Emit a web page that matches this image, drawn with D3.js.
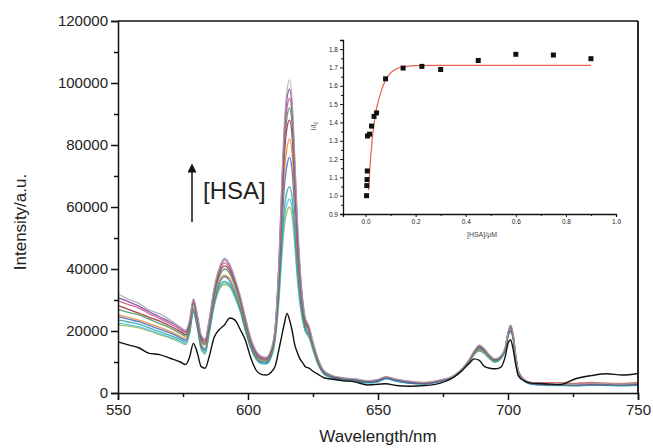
<!DOCTYPE html>
<html>
<head>
<meta charset="utf-8">
<script src="https://cdn.jsdelivr.net/npm/d3@7"></script>
<style>
  body { margin: 0; background: #fff; }
  svg { display: block; font-family: Arial, "Liberation Sans", sans-serif; }
  .axis path, .axis line { stroke: #111; }
  .axis text { fill: #222; }
</style>
</head>
<body>
<svg id="chart" width="653" height="448"></svg>
<script>
// wavelength grid, nm
const wavelengths = [
  550, 554, 558, 562, 566, 570, 574, 576, 577.5, 579,
  580.5, 582, 583.5, 585, 587, 589, 591, 593, 595, 597,
  599, 601, 603, 605, 607, 609, 610.5, 612, 613, 614,
  615, 616, 617, 618, 619, 620, 621, 622, 623.5, 625,
  627, 629, 632, 636, 641, 646, 650, 653, 657, 662,
  668, 674, 679, 682, 685, 687, 689, 691, 693, 695,
  697, 699, 700, 701, 702, 703, 704, 706, 709, 714,
  720, 726, 732, 738, 744, 750
];

// intensities, in thousands of a.u.
const curveGray = [
  32.0, 30.2, 28.9, 26.8, 25.5, 23.6, 21.2, 20.3, 23.5, 30.5,
  25.5, 18.8, 17.5, 23.5, 34.0, 40.5, 43.5, 41.5, 37.0, 31.5,
  24.5, 18.0, 13.8, 12.0, 11.6, 14.5, 22.0, 45.0, 68.0, 87.0,
  97.5, 101.0, 94.0, 76.0, 56.0, 41.0, 30.5, 24.5, 21.5, 16.5,
  11.0, 7.5, 5.8, 5.0, 4.6, 4.0, 4.4, 5.2, 4.5, 3.8,
  3.4, 4.2, 5.6, 7.6, 10.8, 13.6, 15.5, 14.2, 12.2, 11.0,
  11.8, 15.0, 19.5, 22.0, 19.0, 12.0, 7.2, 4.6, 3.3, 3.1,
  3.0, 2.8, 3.1, 3.0, 2.9, 3.1
];
const curvePurple = [
  30.8, 29.5, 28.0, 26.2, 24.6, 23.0, 21.0, 19.8, 23.0, 30.0,
  25.0, 18.2, 17.0, 23.0, 33.5, 40.0, 43.0, 41.0, 36.5, 31.0,
  24.0, 17.5, 13.5, 11.6, 11.3, 14.0, 21.5, 44.0, 66.5, 85.0,
  95.0, 98.0, 91.5, 74.0, 54.5, 40.0, 30.0, 24.0, 21.2, 16.2,
  10.8, 7.2, 5.6, 4.8, 4.4, 3.8, 4.2, 5.0, 4.3, 3.6,
  3.2, 4.0, 5.4, 7.4, 10.5, 13.3, 15.0, 13.9, 12.0, 10.8,
  11.6, 14.8, 19.2, 21.5, 18.6, 11.8, 7.0, 4.4, 3.1, 2.9,
  2.8, 2.7, 2.9, 2.8, 2.7, 2.9
];
const curveMagenta = [
  29.8, 28.5, 27.4, 25.6, 24.0, 22.4, 20.4, 19.3, 22.5, 29.5,
  24.5, 17.8, 16.5, 22.5, 33.0, 39.5, 42.0, 40.2, 36.0, 30.5,
  23.5, 17.0, 13.0, 11.2, 11.0, 13.8, 21.0, 43.0, 64.5, 82.0,
  92.0, 95.0, 89.0, 72.0, 53.0, 39.0, 29.5, 23.8, 20.8, 16.0,
  10.6, 7.3, 5.7, 4.9, 4.5, 3.9, 4.3, 5.1, 4.4, 3.7,
  3.3, 4.1, 5.5, 7.5, 10.6, 13.5, 15.2, 14.0, 12.1, 10.9,
  11.7, 14.9, 19.4, 21.8, 18.8, 11.9, 7.1, 4.5, 3.3, 3.2,
  3.2, 3.0, 3.3, 3.1, 3.0, 3.3
];
const curveGreen = [
  27.0, 26.0, 25.2, 23.8, 22.4, 21.0, 19.2, 18.3, 21.5, 28.5,
  23.5, 16.8, 15.5, 21.5, 31.5, 37.5, 40.0, 38.5, 34.5, 29.5,
  22.5, 16.3, 12.6, 10.8, 10.6, 13.3, 20.5, 41.5, 62.5, 79.5,
  89.0, 92.0, 86.0, 69.5, 51.0, 37.5, 28.5, 23.0, 20.2, 15.5,
  10.2, 7.0, 5.4, 4.6, 4.2, 3.6, 4.0, 4.9, 4.2, 3.5,
  3.1, 3.9, 5.2, 7.1, 10.1, 12.9, 14.5, 13.5, 11.6, 10.4,
  11.2, 14.4, 18.8, 21.0, 18.2, 11.5, 6.8, 4.3, 3.0, 2.7,
  2.6, 2.5, 2.7, 2.6, 2.5, 2.7
];
const curveDarkRed = [
  28.2, 27.0, 25.8, 24.4, 23.2, 21.6, 19.8, 18.8, 22.0, 29.0,
  24.0, 17.4, 16.0, 22.0, 32.0, 38.5, 41.0, 39.4, 35.2, 30.0,
  23.0, 16.6, 12.8, 11.1, 10.9, 13.6, 20.8, 40.5, 60.0, 76.5,
  85.5, 88.0, 82.5, 67.0, 49.5, 36.8, 28.2, 22.8, 20.4, 15.8,
  10.5, 7.1, 5.5, 4.7, 4.3, 3.7, 4.1, 5.0, 4.3, 3.6,
  3.2, 4.0, 5.3, 7.3, 10.4, 13.2, 15.0, 13.8, 11.9, 10.7,
  11.5, 14.7, 19.1, 21.5, 18.5, 11.7, 7.0, 4.4, 3.2, 2.9,
  2.9, 2.8, 3.0, 2.9, 2.8, 3.0
];
const curveOrange = [
  25.2, 24.4, 23.5, 22.4, 21.2, 19.9, 18.3, 17.5, 20.8, 27.5,
  22.8, 16.0, 14.5, 20.8, 30.5, 36.2, 38.0, 36.8, 33.2, 28.4,
  21.8, 15.8, 12.2, 10.5, 10.4, 13.0, 19.8, 38.5, 56.5, 71.5,
  79.0, 82.0, 77.0, 63.0, 46.8, 35.0, 27.2, 22.2, 19.6, 15.2,
  10.0, 6.9, 5.4, 4.6, 4.3, 3.8, 4.2, 5.2, 4.4, 3.8,
  3.4, 4.2, 5.4, 7.2, 10.0, 12.6, 14.0, 13.1, 11.4, 10.3,
  11.3, 14.6, 19.0, 20.8, 18.0, 11.4, 6.8, 4.4, 3.3, 3.3,
  3.3, 3.1, 3.4, 3.2, 3.1, 3.4
];
const curveBlue = [
  24.6, 23.8, 23.0, 21.8, 20.6, 19.4, 17.8, 17.0, 20.3, 27.0,
  22.2, 15.4, 14.0, 20.2, 29.8, 35.5, 37.5, 36.2, 32.6, 27.8,
  21.2, 15.4, 11.8, 10.1, 10.0, 12.6, 19.2, 36.5, 53.0, 66.5,
  73.5, 76.0, 71.5, 58.5, 44.0, 33.2, 26.0, 21.4, 19.0, 14.8,
  9.7, 6.7, 5.2, 4.4, 4.0, 3.4, 3.8, 4.8, 4.0, 3.3,
  3.0, 3.8, 5.2, 7.2, 10.2, 12.9, 14.2, 13.2, 11.5, 10.3,
  11.1, 14.2, 18.5, 20.0, 17.6, 11.2, 6.6, 4.2, 2.9, 2.6,
  2.5, 2.4, 2.6, 2.5, 2.4, 2.6
];
const curveTeal = [
  23.6, 22.9, 22.2, 21.0, 19.8, 18.6, 17.2, 16.4, 19.8, 26.5,
  21.6, 14.8, 13.5, 19.6, 29.0, 34.5, 36.0, 35.0, 31.6, 27.0,
  20.6, 15.0, 11.5, 9.8, 9.7, 12.2, 18.4, 33.5, 48.0, 59.5,
  65.0, 66.5, 63.0, 52.0, 39.5, 30.5, 24.5, 20.6, 18.5, 14.4,
  9.4, 6.5, 5.1, 4.3, 3.9, 3.4, 3.7, 4.7, 3.9, 3.2,
  3.0, 3.8, 5.1, 7.0, 9.9, 12.6, 13.8, 12.9, 11.2, 10.1,
  11.0, 14.3, 18.6, 20.2, 17.7, 11.3, 6.7, 4.3, 3.0, 2.7,
  2.6, 2.5, 2.7, 2.6, 2.5, 2.7
];
const curveCyan = [
  22.6, 22.0, 21.4, 20.3, 19.1, 18.0, 16.6, 15.8, 19.2, 26.0,
  21.0, 14.0, 12.5, 18.8, 28.2, 33.8, 35.5, 34.5, 31.0, 26.5,
  20.2, 14.6, 11.2, 9.5, 9.4, 11.8, 17.8, 32.0, 45.5, 56.0,
  61.0, 62.5, 59.5, 49.5, 37.8, 29.5, 23.8, 20.2, 18.2, 14.1,
  9.2, 6.3, 4.9, 4.1, 3.7, 3.2, 3.6, 4.6, 3.8, 3.1,
  2.9, 3.7, 5.0, 6.9, 9.8, 12.4, 13.5, 12.6, 11.0, 9.9,
  10.8, 14.0, 18.2, 19.8, 17.4, 11.1, 6.5, 4.1, 2.8, 2.5,
  2.4, 2.3, 2.5, 2.4, 2.3, 2.5
];
const curveOlive = [
  22.0, 21.6, 21.0, 20.0, 18.8, 17.7, 16.4, 15.6, 19.0, 26.0,
  21.2, 14.4, 13.0, 19.0, 28.0, 33.4, 35.0, 34.2, 30.8, 26.3,
  20.0, 14.5, 11.0, 9.5, 9.4, 11.6, 17.4, 31.0, 44.0, 54.0,
  58.5, 60.0, 57.0, 47.5, 36.5, 28.6, 23.2, 19.8, 17.8, 13.8,
  9.0, 6.2, 4.9, 4.1, 3.8, 3.3, 3.7, 4.7, 3.9, 3.2,
  3.0, 3.8, 5.1, 7.0, 9.9, 12.5, 13.6, 12.7, 11.1, 10.0,
  10.9, 14.1, 18.3, 19.6, 17.3, 11.0, 6.5, 4.2, 3.0, 2.9,
  2.8, 2.7, 2.9, 2.8, 2.7, 2.9
];
// free complex, no HSA
const curveBlack = [
  16.5, 15.5, 14.6, 12.8, 12.4, 11.2, 10.0, 9.2, 11.5, 16.0,
  13.0, 8.5, 8.0, 11.5, 18.0, 20.5, 22.0, 24.2, 23.5, 20.5,
  17.0, 11.5, 7.5, 6.0, 5.8, 6.8, 8.8, 14.5, 18.5, 22.5,
  25.7, 23.5, 20.0, 15.5, 13.0, 11.0, 9.8, 8.5, 8.0, 7.0,
  6.0, 5.0, 4.5, 4.0, 3.6, 2.6, 2.8, 3.0, 2.4, 2.2,
  2.4, 3.2, 5.0, 7.0, 9.5, 11.0, 10.5, 8.5, 8.0, 7.8,
  8.2, 12.0, 16.0, 17.2, 14.0, 9.0, 5.5, 4.0, 3.2, 3.0,
  2.7, 4.6, 5.6, 6.2, 5.8, 6.3
];

const colorCurves = [curveOlive, curveCyan, curveTeal, curveBlue, curveOrange,
  curveDarkRed, curveGreen, curveMagenta, curvePurple, curveGray];
const curveColors = ['#a9b43c', '#3cc3ea', '#2aa39c', '#3b62cc', '#e8892a',
  '#9b2335', '#3c9a58', '#d24f8c', '#7a3e9e', '#a8a8a8'];

// inset: I/I0 vs [HSA]
const hsaConc = [0.004, 0.005, 0.006, 0.007, 0.008, 0.016, 0.024, 0.034, 0.044, 0.08,
  0.15, 0.225, 0.3, 0.45, 0.6, 0.75, 0.9];
const ratio = [1.0, 1.055, 1.088, 1.135, 1.326, 1.336, 1.38, 1.433, 1.452, 1.638,
  1.697, 1.706, 1.689, 1.738, 1.772, 1.768, 1.748];
const fitConc = [0.012, 0.016, 0.02, 0.025, 0.03, 0.035, 0.04, 0.05, 0.06, 0.07,
  0.08, 0.1, 0.12, 0.15, 0.2, 0.3, 0.5, 0.9];
const fitRatio = [1.03, 1.12, 1.2, 1.28, 1.35, 1.4, 1.45, 1.51, 1.56, 1.6,
  1.63, 1.67, 1.69, 1.703, 1.71, 1.712, 1.712, 1.712];

const yTicks = [0, 20000, 40000, 60000, 80000, 100000, 120000];
const xTicks = [550, 600, 650, 700, 750];
const insetXTicks = [0, 0.2, 0.4, 0.6, 0.8, 1.0];
const insetYTicks = [0.9, 1.0, 1.1, 1.2, 1.3, 1.4, 1.5, 1.6, 1.7, 1.8];

const svg = d3.select('#chart');

const x = d3.scaleLinear().domain([550, 750]).range([118, 638]);
const y = d3.scaleLinear().domain([0, 120000]).range([393, 21]);

function toPoints(values) {
  return values.map((v, i) => ({ wl: wavelengths[i], val: v * 1000 }));
}

const spectrumLine = d3.line()
  .x(d => x(d.wl))
  .y(d => y(d.val))
  .curve(d3.curveMonotoneX);

const plot = svg.append('g');

colorCurves.forEach((values, i) => {
  plot.append('path')
    .datum(toPoints(values))
    .attr('d', spectrumLine)
    .attr('fill', 'none')
    .attr('stroke', curveColors[i])
    .attr('stroke-width', 1.3)
    .attr('stroke-opacity', 0.85);
});

plot.append('path')
  .datum(toPoints(curveBlack))
  .attr('d', spectrumLine)
  .attr('fill', 'none')
  .attr('stroke', '#111')
  .attr('stroke-width', 1.4);

// main axes
function midpoints(ticks) {
  return ticks.slice(1).map((t, i) => (t + ticks[i]) / 2);
}

const yAxis = svg.append('g')
  .attr('class', 'axis')
  .attr('transform', 'translate(118,0)')
  .call(d3.axisLeft(y).tickValues(yTicks).tickSize(7).tickPadding(3).tickFormat(d3.format('d')));
svg.append('g')
  .attr('class', 'axis')
  .attr('transform', 'translate(118,0)')
  .call(d3.axisLeft(y).tickValues(midpoints(yTicks)).tickSize(4).tickFormat(''))
  .call(g => g.select('.domain').remove());

const xAxis = svg.append('g')
  .attr('class', 'axis')
  .attr('transform', 'translate(0,393)')
  .call(d3.axisBottom(x).tickValues(xTicks).tickSize(7).tickPadding(4).tickFormat(d3.format('d')));
svg.append('g')
  .attr('class', 'axis')
  .attr('transform', 'translate(0,393)')
  .call(d3.axisBottom(x).tickValues(midpoints(xTicks)).tickSize(4).tickFormat(''))
  .call(g => g.select('.domain').remove());

[yAxis, xAxis].forEach(g => {
  g.selectAll('path, line').attr('stroke-width', 1.5);
  g.selectAll('text').attr('font-size', 15);
});
svg.selectAll('.axis line').attr('stroke-width', 1.5);

// frame: top and right
svg.append('line')
  .attr('x1', 118).attr('x2', 638).attr('y1', 21).attr('y2', 21)
  .attr('stroke', '#111').attr('stroke-width', 1.5);
svg.append('line')
  .attr('x1', 638).attr('x2', 638).attr('y1', 21).attr('y2', 393)
  .attr('stroke', '#111').attr('stroke-width', 1.8);

svg.append('text')
  .attr('x', 378).attr('y', 442)
  .attr('text-anchor', 'middle')
  .attr('font-size', 17)
  .attr('fill', '#222')
  .text('Wavelength/nm');

svg.append('text')
  .attr('transform', 'translate(26,222) rotate(-90)')
  .attr('text-anchor', 'middle')
  .attr('font-size', 17)
  .attr('fill', '#222')
  .text('Intensity/a.u.');

// arrow and [HSA]
svg.append('defs').append('marker')
  .attr('id', 'arrowhead')
  .attr('viewBox', '0 0 10 10')
  .attr('refX', 5).attr('refY', 5)
  .attr('markerWidth', 6).attr('markerHeight', 6)
  .attr('orient', 'auto')
  .append('path')
  .attr('d', 'M0,0 L10,5 L0,10 Z')
  .attr('fill', '#111');

svg.append('line')
  .attr('x1', 192).attr('x2', 192).attr('y1', 222).attr('y2', 168)
  .attr('stroke', '#111').attr('stroke-width', 1.5)
  .attr('marker-end', 'url(#arrowhead)');

svg.append('text')
  .attr('x', 203).attr('y', 199)
  .attr('font-size', 24)
  .attr('fill', '#222')
  .text('[HSA]');

// inset
const ix = d3.scaleLinear().domain([-0.09, 1.0]).range([343, 616]);
const iy = d3.scaleLinear().domain([0.9, 1.85]).range([214, 40]);

const inset = svg.append('g');

const insetX = inset.append('g')
  .attr('class', 'axis')
  .attr('transform', 'translate(0,214)')
  .call(d3.axisBottom(ix).tickValues(insetXTicks).tickSize(3).tickPadding(2).tickFormat(d3.format('.1f')));
inset.append('g')
  .attr('class', 'axis')
  .attr('transform', 'translate(0,214)')
  .call(d3.axisBottom(ix).tickValues(midpoints(insetXTicks)).tickSize(2).tickFormat(''))
  .call(g => g.select('.domain').remove());

const insetY = inset.append('g')
  .attr('class', 'axis')
  .attr('transform', 'translate(343,0)')
  .call(d3.axisLeft(iy).tickValues(insetYTicks).tickSize(3).tickPadding(2).tickFormat(d3.format('.1f')));
inset.append('g')
  .attr('class', 'axis')
  .attr('transform', 'translate(343,0)')
  .call(d3.axisLeft(iy).tickValues(midpoints(insetYTicks)).tickSize(2).tickFormat(''))
  .call(g => g.select('.domain').remove());

[insetX, insetY].forEach(g => {
  g.select('.domain').attr('stroke-width', 1.3);
  g.selectAll('text').attr('font-size', 6.5).attr('fill', '#444');
});

inset.append('path')
  .datum(fitConc.map((c, i) => [c, fitRatio[i]]))
  .attr('d', d3.line().x(d => ix(d[0])).y(d => iy(d[1])).curve(d3.curveMonotoneX))
  .attr('fill', 'none')
  .attr('stroke', '#e8604a')
  .attr('stroke-width', 1.2);

inset.selectAll('rect.pt')
  .data(hsaConc.map((c, i) => [c, ratio[i]]))
  .enter()
  .append('rect')
  .attr('class', 'pt')
  .attr('x', d => ix(d[0]) - 2.5)
  .attr('y', d => iy(d[1]) - 2.5)
  .attr('width', 5)
  .attr('height', 5)
  .attr('fill', '#111');

inset.append('text')
  .attr('x', 482).attr('y', 237)
  .attr('text-anchor', 'middle')
  .attr('font-size', 7)
  .attr('fill', '#444')
  .text('[HSA]/μM');

const iLabel = inset.append('text')
  .attr('transform', 'translate(316,126) rotate(-90)')
  .attr('text-anchor', 'middle')
  .attr('font-size', 7)
  .attr('fill', '#444');
iLabel.append('tspan').text('I/I');
iLabel.append('tspan').attr('font-size', 5).attr('dy', 2).text('0');
</script>
</body>
</html>
